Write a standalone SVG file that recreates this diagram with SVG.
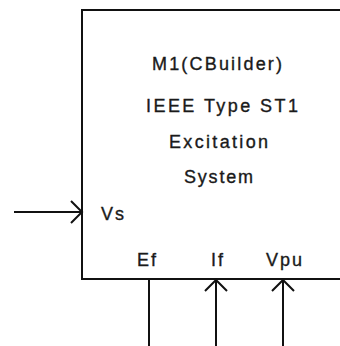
<svg xmlns="http://www.w3.org/2000/svg" width="340" height="346" viewBox="0 0 340 346">
<style>
.ln{stroke:#111;stroke-width:2;fill:none}
.t{font-family:"Liberation Sans",Arial,sans-serif;font-size:18px;fill:#1a1a1a;stroke:#1a1a1a;stroke-width:0.35}
</style>
<rect width="340" height="346" fill="#fff"/>
<g id="block">
<rect class="ln" x="82" y="10" width="280" height="269"/>
<text class="t" x="152" y="70" textLength="130" lengthAdjust="spacing">M1(CBuilder)</text>
<text class="t" x="146" y="112" textLength="152" lengthAdjust="spacing">IEEE Type ST1</text>
<text class="t" x="169" y="148" textLength="99" lengthAdjust="spacing">Excitation</text>
<text class="t" x="184" y="183" textLength="69" lengthAdjust="spacing">System</text>
<text class="t" x="101" y="220" textLength="23" lengthAdjust="spacing">Vs</text>
<text class="t" x="137" y="266" textLength="19" lengthAdjust="spacing">Ef</text>
<text class="t" x="211" y="266" textLength="12" lengthAdjust="spacing">If</text>
<text class="t" x="266" y="266" textLength="36" lengthAdjust="spacing">Vpu</text>
</g>
<g id="connectors">
<g id="vs-in"><path class="ln" d="M14 212H82M71 201L82 212L71 223"/></g>
<g id="ef-out"><path class="ln" d="M149 279V346"/></g>
<g id="if-in"><path class="ln" d="M216 346V280M205 291L216 280L227 291"/></g>
<g id="vpu-in"><path class="ln" d="M283 346V280M272 291L283 280L294 291"/></g>
</g>
</svg>
